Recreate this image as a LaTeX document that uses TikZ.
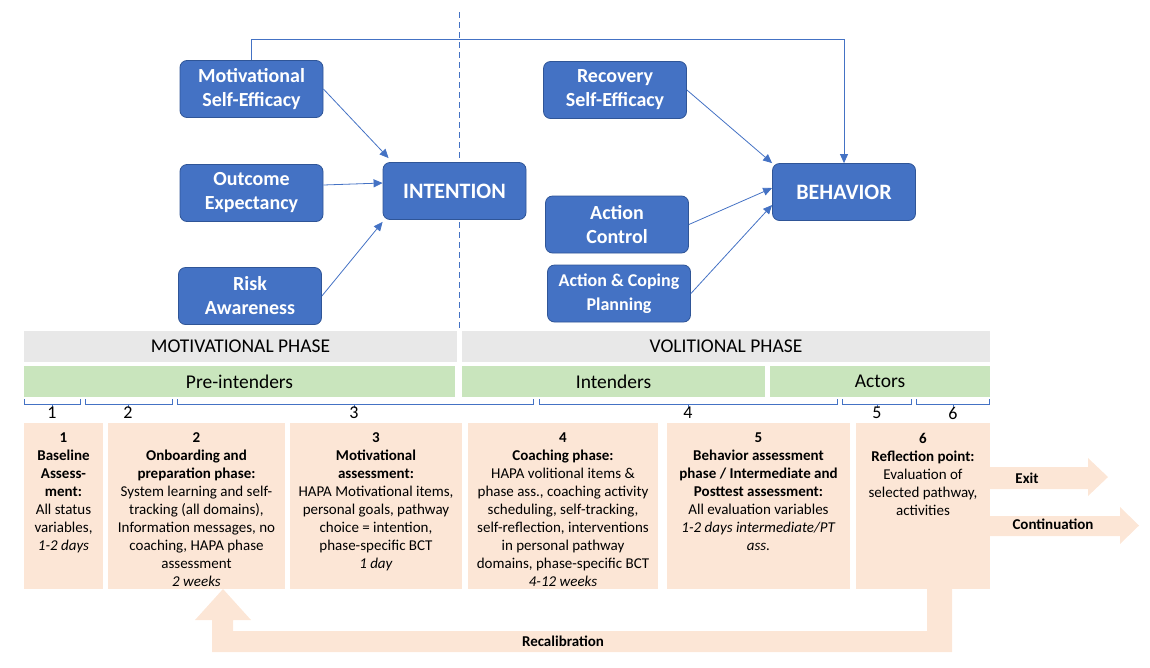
\documentclass[tikz,border=0pt]{standalone}
\usepackage{fontspec}
\setmainfont{Carlito}
\usetikzlibrary{arrows.meta}
\definecolor{hapablue}{HTML}{4472C4}
\definecolor{hapaedge}{HTML}{2F5597}
\definecolor{phasegray}{HTML}{E8E8E8}
\definecolor{stagegreen}{HTML}{C9E5BD}
\definecolor{peach}{HTML}{FCE6D6}
\begin{document}
\begin{tikzpicture}[x=1pt, y=-1pt,
    factor/.style={draw=hapaedge, line width=0.8pt, fill=hapablue, rounded corners=7pt,
        text=white, font=\fontsize{20}{24}\selectfont\bfseries, align=center,
        minimum width=143pt, minimum height=57pt},
    link/.style={draw=hapablue, line width=0.8pt, -{Triangle[length=9pt, width=8pt]}},
    phasebar/.style={fill=phasegray, inner sep=0pt, minimum height=31pt, font=\fontsize{19.5}{20}\selectfont},
    groupbar/.style={fill=stagegreen, inner sep=0pt, minimum height=31pt, font=\fontsize{19.5}{20}\selectfont},
    stagebox/.style={fill=peach, inner sep=0pt, minimum height=166pt},
    stagetext/.style={anchor=north, align=center, inner sep=0pt, font=\fontsize{15}{18}\selectfont},
    brace/.style={draw=hapablue, line width=0.7pt},
    num/.style={font=\fontsize{18}{18}\selectfont},
    fat/.style={fill=peach},
    fatlabel/.style={font=\fontsize{15}{16}\selectfont\bfseries}]
\useasboundingbox (0,0) rectangle (1150,667);

% phase border
\draw[hapablue, line width=0.9pt, dash pattern=on 6pt off 4pt] (459,12) -- (459,331);

% HAPA model
\node[factor] (mse) at (251.5,89) {Motivational\\Self-Efficacy};
\node[factor] (outcome) at (251.5,193) {Outcome\\Expectancy};
\node[factor] (risk) at (250,296) {Risk\\Awareness};
\node[factor, font=\fontsize{22}{24}\selectfont\bfseries] (intention) at (454.5,191) {INTENTION};
\node[factor] (recovery) at (615,90) {Recovery\\Self-Efficacy};
\node[factor, font=\fontsize{22}{24}\selectfont\bfseries] (behavior) at (844,192) {BEHAVIOR};
\node[factor] (control) at (617,224.5) {Action\\Control};
\node[factor, font=\fontsize{18}{24}\selectfont\bfseries] (planning) at (619,293.5) {Action \& Coping\\Planning};

\draw[link] (mse.east) -- ([xshift=6pt, yshift=4pt]intention.north west);
\draw[link] ([yshift=8pt]outcome.east) -- ([yshift=8pt]intention.west);
\draw[link] (risk.east) -- ([yshift=-2pt]intention.south west);
\draw[link] (recovery.east) -- (behavior.north west);
\draw[link] (control.east) -- ([yshift=4pt]behavior.west);
\draw[link] (planning.east) -- ([yshift=-13pt]behavior.west);
\draw[link] (mse.north) -- ++(0,-21) -| (behavior.north);

% phases and stages
\node[phasebar, minimum width=433pt] (motphase) at (240.5,346.5) {MOTIVATIONAL PHASE};
\node[phasebar, minimum width=528pt] (volphase) at (726,346.5) {VOLITIONAL PHASE};
\node[groupbar, minimum width=431pt] (pre) at (239.5,381.5) {Pre-intenders};
\node[groupbar, minimum width=303pt] (intenders) at (613.5,381.5) {Intenders};
\node[groupbar, minimum width=220pt] (actors) at (880,381.5) {Actors};

\foreach \a/\b/\c/\n in {24/80/52/1, 85/172/128/2, 177/533/354/3, 539/837/688/4, 842/911/877/5, 916/989/953/6} {
    \draw[brace] (\a,399) -- (\a,404) -- (\b,404) -- (\b,399) (\c,404) -- (\c,408);
    \node[num] (b\n) at (\c,413) {\n};
}

% recalibration and exits
\fill[fat] (927,589) -- (952,589) -- (952,652) -- (212,652) -- (212,620) -- (195,620)
    -- (223,589) -- (251,620) -- (233,620) -- (233,631) -- (927,631) -- cycle;
\fill[fat] (989,467) -- (1088,467) -- (1088,458) -- (1108,477) -- (1088,496) -- (1088,489) -- (989,489) -- cycle;
\fill[fat] (989,516) -- (1120,516) -- (1120,507) -- (1139,525.5) -- (1120,544) -- (1120,536) -- (989,536) -- cycle;
\node[fatlabel] (exit) at (1027,478) {Exit};
\node[fatlabel] (cont) at (1053,524) {Continuation};
\node[fatlabel] (recal) at (563,641) {Recalibration};

% study stages
\node[stagebox, minimum width=79pt] (s1) at (63.5,506) {};
\node[stagebox, minimum width=177pt] (s2) at (196.5,506) {};
\node[stagebox, minimum width=172pt] (s3) at (376,506) {};
\node[stagebox, minimum width=190pt] (s4) at (563,506) {};
\node[stagebox, minimum width=183pt] (s5) at (758.5,506) {};
\node[stagebox, minimum width=134pt] (s6) at (923,506) {};

\node[stagetext] (t1) at ([yshift=-10pt]s1.north) {\textbf{1}\\\textbf{Baseline}\\\textbf{Assess-}\\\textbf{ment:}\\All status\\variables,\\\textit{1-2 days}};
\node[stagetext] (t2) at ([yshift=-10pt]s2.north) {\textbf{2}\\\textbf{Onboarding and}\\\textbf{preparation phase:}\\System learning and self-\\tracking (all domains),\\Information messages, no\\coaching, HAPA phase\\assessment\\\textit{2 weeks}};
\node[stagetext] (t3) at ([yshift=-10pt]s3.north) {\textbf{3}\\\textbf{Motivational}\\\textbf{assessment:}\\HAPA Motivational items,\\personal goals, pathway\\choice = intention,\\phase-specific BCT\\\textit{1 day}};
\node[stagetext] (t4) at ([yshift=-10pt]s4.north) {\textbf{4}\\\textbf{Coaching phase:}\\HAPA volitional items \&\\phase ass., coaching  activity\\scheduling, self-tracking,\\self-reflection, interventions\\in personal pathway\\domains, phase-specific BCT\\\textit{4-12 weeks}};
\node[stagetext] (t5) at ([yshift=-10pt]s5.north) {\textbf{5}\\\textbf{Behavior assessment}\\\textbf{phase / Intermediate and}\\\textbf{Posttest assessment:}\\All evaluation variables\\\textit{1-2 days intermediate/PT}\\\textit{ass.}};
\node[stagetext] (t6) at ([yshift=-10pt]s6.north) {\textbf{6}\\\textbf{Reflection point:}\\Evaluation of\\selected pathway,\\activities};
\end{tikzpicture}
\end{document}
